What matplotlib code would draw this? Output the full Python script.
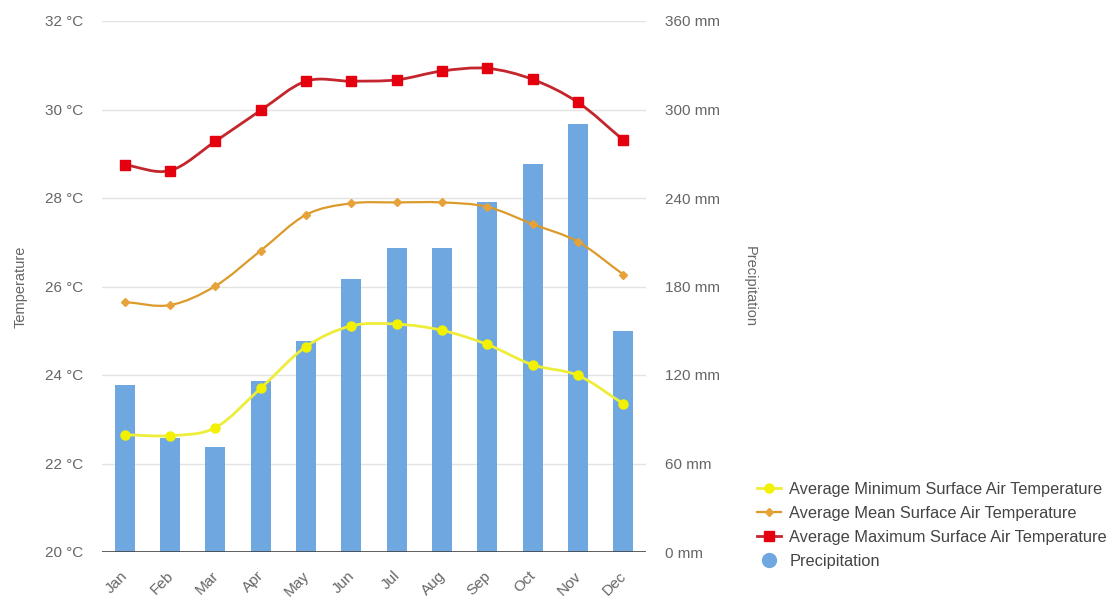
import numpy as np
import matplotlib
matplotlib.use("Agg")
import matplotlib.pyplot as plt
import matplotlib.transforms as mtransforms
from matplotlib.path import Path
from matplotlib.patches import PathPatch
from matplotlib.lines import Line2D

plt.rcParams['font.family'] = ['Liberation Sans', 'DejaVu Sans']

months = ["Jan", "Feb", "Mar", "Apr", "May", "Jun", "Jul", "Aug", "Sep", "Oct", "Nov", "Dec"]
precip_mm = [113, 77, 71, 116, 143, 185, 206, 206, 237, 263, 290, 150]
temp_min = [22.65, 22.63, 22.81, 23.70, 24.64, 25.11, 25.15, 25.01, 24.69, 24.23, 23.99, 23.35]
temp_mean = [25.65, 25.58, 26.01, 26.81, 27.62, 27.88, 27.90, 27.90, 27.80, 27.41, 27.01, 26.27]
temp_max = [28.75, 28.62, 29.28, 29.98, 30.64, 30.64, 30.67, 30.87, 30.93, 30.68, 30.16, 29.31]
temp_ticks = [20, 22, 24, 26, 28, 30, 32]
precip_ticks = [0, 60, 120, 180, 240, 300, 360]

GREY = "#666666"
BAR_C = "#6fa8e0"
MIN_LINE, MIN_MARK = "#eded3a", "#f2f200"
MEAN_LINE, MEAN_MARK = "#dc9a2a", "#e8a23a"
MAX_LINE, MAX_MARK = "#c3262c", "#e4000f"


def smooth_path(xs, ys):
    """Cubic Bezier path through the points with Catmull-Rom style tangents."""
    xs = np.asarray(xs, float)
    ys = np.asarray(ys, float)
    n = len(xs)
    m = np.empty(n)
    m[1:-1] = (ys[2:] - ys[:-2]) / (xs[2:] - xs[:-2])
    m[0] = (ys[1] - ys[0]) / (xs[1] - xs[0])
    m[-1] = (ys[-1] - ys[-2]) / (xs[-1] - xs[-2])
    verts = [(xs[0], ys[0])]
    codes = [Path.MOVETO]
    for i in range(n - 1):
        h = xs[i + 1] - xs[i]
        verts += [(xs[i] + h / 3, ys[i] + m[i] * h / 3),
                  (xs[i + 1] - h / 3, ys[i + 1] - m[i + 1] * h / 3),
                  (xs[i + 1], ys[i + 1])]
        codes += [Path.CURVE4] * 3
    return Path(verts, codes)


fig = plt.figure(figsize=(11.2, 6.06), dpi=100)
W, H = 1120, 606
left, right, top, bottom = 102, 646, 21, 552
ax2 = fig.add_axes([left / W, 1 - bottom / H, (right - left) / W, (bottom - top) / H])
ax = ax2.twinx()
ax.yaxis.tick_left()
ax.yaxis.set_label_position("left")
ax2.yaxis.tick_right()
ax2.yaxis.set_label_position("right")

x = np.arange(len(months))

# precipitation bars and gridlines on the lower axes
ax2.bar(x, precip_mm, width=0.44, color=BAR_C, zorder=2)
ax2.set_ylim(0, 360)
ax2.set_yticks(precip_ticks)
ax2.set_yticklabels([f"{v} mm" for v in precip_ticks])
ax2.grid(axis="y", color="#e3e3e3", linewidth=1, zorder=0)
ax2.set_axisbelow(True)
ax2.set_xlim(-0.5, len(months) - 0.5)
ax2.set_xticks(x)
ax2.set_xticklabels(months)

# temperature lines on the upper axes
ax.set_ylim(20, 32)
ax.set_yticks(temp_ticks)
ax.set_yticklabels([f"{v} °C" for v in temp_ticks])
series = [
    (temp_min, MIN_LINE, MIN_MARK, "o", 6.5, 2.0, "Average Minimum Surface Air Temperature"),
    (temp_mean, MEAN_LINE, MEAN_MARK, "D", 4.5, 1.6, "Average Mean Surface Air Temperature"),
    (temp_max, MAX_LINE, MAX_MARK, "s", 7.0, 2.0, "Average Maximum Surface Air Temperature"),
]
handles = []
for vals, lc, mc, mk, ms, lw, name in series:
    ax.add_patch(PathPatch(smooth_path(x, vals), facecolor="none", edgecolor=lc,
                           linewidth=lw, zorder=3))
    ax.plot(x, vals, linestyle="none", marker=mk, markersize=ms,
            markerfacecolor=mc, markeredgecolor=mc, zorder=4)
    handles.append(Line2D([], [], color=lc, linewidth=lw, marker=mk,
                          markersize=ms, markerfacecolor=mc, markeredgecolor=mc,
                          label=name))
handles.append(Line2D([], [], linestyle="none", marker="o", markersize=10,
                      markerfacecolor=BAR_C, markeredgecolor=BAR_C,
                      label="Precipitation"))

for a in (ax, ax2):
    for s in a.spines.values():
        s.set_visible(False)
    a.tick_params(length=0, colors=GREY, labelsize=11)
ax.tick_params(axis="y", pad=13.5)
ax2.tick_params(axis="y", pad=13.5)
ax2.tick_params(axis="x", pad=12)
ax2.axhline(0, color="#444444", linewidth=1.2, zorder=3)

shift = mtransforms.ScaledTranslation(-4 / 100, 0, fig.dpi_scale_trans)
for lbl in ax2.get_xticklabels():
    lbl.set_rotation(45)
    lbl.set_ha("right")
    lbl.set_va("top")
    lbl.set_rotation_mode("anchor")
    lbl.set_transform(lbl.get_transform() + shift)

ax.set_ylabel("Temperature", color=GREY, fontsize=10.5)
ax.yaxis.set_label_coords(-0.137, 0.5)
ax2.set_ylabel("Precipitation", color=GREY, fontsize=10.5, rotation=270, va="center")
ax2.yaxis.set_label_coords(1.19, 0.5)

fig.legend(handles=handles, loc="upper left", bbox_to_anchor=(750 / W, 1 - 475 / H),
           frameon=False, fontsize=11.8, labelcolor="#444444",
           handlelength=1.5, handletextpad=0.5, labelspacing=0.55, borderaxespad=0)

fig.savefig("out.png", dpi=100)
